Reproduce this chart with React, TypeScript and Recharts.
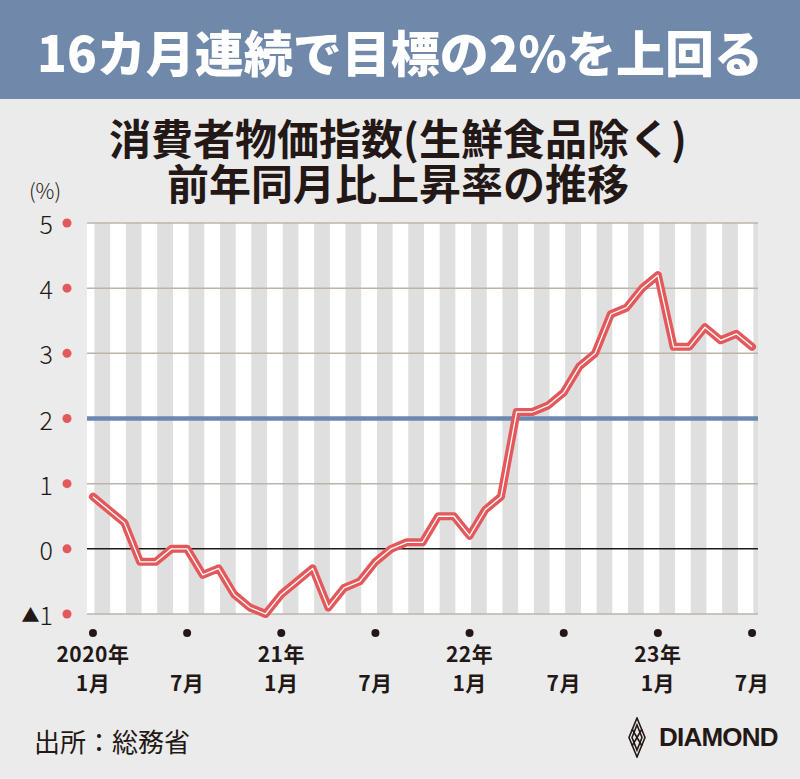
import { LineChart, Line, XAxis, YAxis, ReferenceArea, ReferenceLine } from 'recharts';

// 消費者物価指数（生鮮食品除く）前年同月比, 2020年1月〜2023年7月
const cpi = [
  0.8, 0.6, 0.4, -0.2, -0.2, 0.0, 0.0, -0.4, -0.3, -0.7, -0.9, -1.0,
  -0.7, -0.5, -0.3, -0.9, -0.6, -0.5, -0.2, 0.0, 0.1, 0.1, 0.5, 0.5,
  0.2, 0.6, 0.8, 2.1, 2.1, 2.2, 2.4, 2.8, 3.0, 3.6, 3.7, 4.0,
  4.2, 3.1, 3.1, 3.4, 3.2, 3.3, 3.1,
];
const tickIndex = [0, 6, 12, 18, 24, 30, 36, 42];
const tickYear = ['2020年', '', '21年', '', '22年', '', '23年', ''];
const tickMonth = ['1月', '7月', '1月', '7月', '1月', '7月', '1月', '7月'];
const yTicks = [-1, 0, 1, 2, 3, 4, 5];
const gridValues = [-1, 1, 3, 4, 5];
const targetRate = 2;

const data = cpi.map((v, i) => ({ i, v }));

const X_MIN = -0.38;
const X_MAX = 42.38;
const INK = '#231815';
const RED = '#e3585b';
const JP = '"Noto Sans CJK JP", "Noto Sans", sans-serif';

function YTick(props: any) {
  const { y, payload } = props;
  const v = payload.value as number;
  return (
    <g>
      <text
        x={53}
        y={y}
        textAnchor="end"
        dominantBaseline="central"
        fontFamily={JP}
        fontWeight={300}
        fontSize={25}
        fill={INK}
      >
        {v < 0 ? (
          <>
            <tspan fontSize={18}>▲</tspan>
            <tspan>{-v}</tspan>
          </>
        ) : (
          String(v)
        )}
      </text>
      <circle cx={67} cy={y} r={4.5} fill={RED} />
    </g>
  );
}

function XTick(props: any) {
  const { x, y, index } = props;
  const year = tickYear[index];
  return (
    <g>
      <circle cx={x} cy={y + 11} r={4} fill={INK} />
      {year && (
        <text x={x} y={y + 40} textAnchor="middle" fontFamily={JP} fontWeight={700} fontSize={21} letterSpacing={0.5} fill={INK}>
          {year}
        </text>
      )}
      <text x={x} y={y + 69} textAnchor="middle" fontFamily={JP} fontWeight={700} fontSize={21} letterSpacing={0.5} fill={INK}>
        {tickMonth[index]}
      </text>
    </g>
  );
}

const titleLine = {
  position: 'absolute' as const,
  left: 0,
  width: 796,
  height: 44,
  overflow: 'visible',
  textAlign: 'center' as const,
  fontWeight: 700,
  fontSize: 42,
  lineHeight: '44px',
};

export default function App() {
  const stripes = cpi.map((_, i) => ({
    x1: i + 0.1,
    x2: Math.min(i + 1.1, X_MAX),
    fill: i % 2 === 0 ? '#dfdfdf' : '#ffffff',
  }));

  return (
    <div
      style={{
        position: 'absolute',
        left: 0,
        top: 0,
        width: 800,
        height: 779,
        background: '#ebebeb',
        overflow: 'hidden',
        fontFamily: JP,
        color: INK,
      }}
    >
      <div
        style={{
          position: 'absolute',
          left: 0,
          top: 0,
          width: 800,
          height: 99,
          background: '#7089ab',
          color: '#ffffff',
          fontWeight: 900,
          fontSize: 49,
          lineHeight: '102px',
          textAlign: 'center',
        }}
      >
        16カ月連続で目標の2%を上回る
      </div>
      <div style={{ ...titleLine, top: 115 }}>消費者物価指数(生鮮食品除く)</div>
      <div style={{ ...titleLine, top: 160 }}>前年同月比上昇率の推移</div>
      <div style={{ position: 'absolute', left: 29, top: 175, fontSize: 21, fontWeight: 300 }}>(%)</div>

      <div style={{ position: 'absolute', left: 0, top: 0 }}>
        <LineChart width={800} height={779} data={data} margin={{ top: 223, right: 42, bottom: 95, left: 27 }}>
          <XAxis
            dataKey="i"
            type="number"
            domain={[X_MIN, X_MAX]}
            ticks={tickIndex}
            height={70}
            axisLine={false}
            tickLine={false}
            tick={<XTick />}
            interval={0}
          />
          <YAxis
            type="number"
            domain={[-1, 5]}
            ticks={yTicks}
            width={60}
            axisLine={false}
            tickLine={false}
            tick={<YTick />}
            interval={0}
          />
          <ReferenceArea x1={X_MIN} x2={0.1} fill="#ffffff" fillOpacity={1} stroke="none" />
          {stripes.map((s) => (
            <ReferenceArea key={s.x1} x1={s.x1} x2={s.x2} fill={s.fill} fillOpacity={1} stroke="none" />
          ))}
          {gridValues.map((g) => (
            <ReferenceLine key={g} y={g} stroke="#bcb4a8" strokeWidth={1.5} />
          ))}
          <ReferenceLine y={0} stroke={INK} strokeWidth={1.5} />
          <ReferenceLine y={targetRate} stroke="#6b88b0" strokeWidth={4.5} />
          <Line
            dataKey="v"
            type="linear"
            stroke={RED}
            strokeWidth={8}
            strokeLinejoin="round"
            strokeLinecap="round"
            dot={false}
            activeDot={false}
            isAnimationActive={false}
          />
          <Line
            dataKey="v"
            type="linear"
            stroke="#ffffff"
            strokeWidth={1.3}
            strokeLinejoin="round"
            dot={false}
            activeDot={false}
            isAnimationActive={false}
          />
        </LineChart>
      </div>

      <div style={{ position: 'absolute', left: 34, top: 722, fontSize: 26, fontWeight: 400, lineHeight: '38px' }}>
        出所：総務省
      </div>
      <div style={{ position: 'absolute', left: 628, top: 717, display: 'flex', alignItems: 'center' }}>
        <svg width={18} height={41} viewBox="0 0 18 41">
          <g fill="none" stroke={INK} strokeWidth={1.6}>
            <polygon points="9,1 17,20.5 9,40 1,20.5" />
            <polygon points="9,8 14,20.5 9,33 4,20.5" />
            <line x1="4" y1="12" x2="14" y2="29" />
            <line x1="14" y1="12" x2="4" y2="29" />
          </g>
        </svg>
        <span
          style={{
            marginLeft: 13,
            fontFamily: '"Liberation Sans", Arial, sans-serif',
            fontWeight: 700,
            fontSize: 26,
            letterSpacing: -0.8,
            color: INK,
          }}
        >
          DIAMOND
        </span>
      </div>
    </div>
  );
}
